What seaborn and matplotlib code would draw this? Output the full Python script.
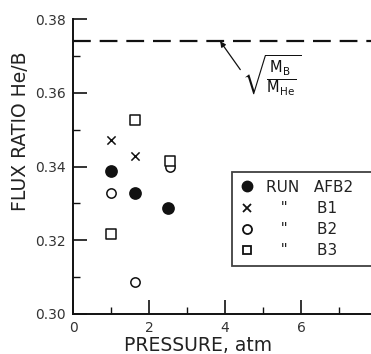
import matplotlib
matplotlib.use("Agg")
import matplotlib.pyplot as plt
import seaborn as sns
import pandas as pd
from matplotlib.ticker import MultipleLocator
from matplotlib.lines import Line2D

sns.set_theme(style="ticks")
plt.rcParams['font.family'] = ['DejaVu Sans']
plt.rcParams['mathtext.fontset'] = 'dejavusans'

# data
pressure = [1.0, 1.63, 2.55]
afb2 = [0.3388, 0.3327, 0.3287]
b1 = [0.3472, 0.3428, 0.3401]
b2 = [0.3327, 0.3087, 0.3398]
b3 = [0.3217, 0.3526, 0.3415]
pressure_afb2 = [1.0, 1.63, 2.50]
sqrt_ratio = 0.374

series_names = ["RUN   AFB2", "   \"      B1", "   \"      B2", "   \"      B3"]

fig = plt.figure(figsize=(3.71, 3.54), dpi=100)
ax = fig.add_axes([0.197, 0.113, 0.803, 0.833])

ink = "#111111"
kw = dict(ax=ax, legend=False, linewidth=1.1, zorder=3)
sns.scatterplot(x=pressure_afb2, y=afb2, marker="o", s=65, color=ink, edgecolor=ink, **kw)
sns.scatterplot(x=pressure, y=b1, marker="x", s=35, color=ink, **kw)
sns.scatterplot(x=pressure, y=b2, marker="o", s=45, facecolor="white", edgecolor=ink, **kw)
sns.scatterplot(x=pressure, y=b3, marker="s", s=42, facecolor="white", edgecolor=ink, **kw)

ax.axhline(sqrt_ratio, color=ink, lw=1.6, dashes=(8, 4))

ax.set_xlim(0, 7.84)
ax.set_ylim(0.30, 0.38)
ax.xaxis.set_major_locator(MultipleLocator(2))
ax.xaxis.set_minor_locator(MultipleLocator(1))
ax.yaxis.set_major_locator(MultipleLocator(0.02))
ax.yaxis.set_minor_locator(MultipleLocator(0.01))
ax.tick_params(which="major", direction="in", length=10, width=1.2, color=ink,
               labelsize=10, labelcolor="#333333", pad=5)
ax.tick_params(which="minor", direction="in", length=5, width=1.0, color=ink)
ax.yaxis.set_major_formatter(matplotlib.ticker.FormatStrFormatter("%.2f"))
ax.xaxis.set_major_formatter(matplotlib.ticker.FormatStrFormatter("%d"))
for s in ["top", "right"]:
    ax.spines[s].set_visible(False)
for s in ["left", "bottom"]:
    ax.spines[s].set_color(ink)
    ax.spines[s].set_linewidth(1.4)

ax.set_xlabel("PRESSURE, atm", fontsize=13.5, color="#222222", labelpad=1)
ax.set_ylabel("FLUX RATIO He/B", fontsize=13.5, color="#222222", labelpad=4)
ax.xaxis.label.set_x(0.42)
ax.yaxis.label.set_y(0.62)

ax.annotate("", xy=(3.87, sqrt_ratio), xytext=(4.4, 0.3663),
            arrowprops=dict(arrowstyle="-|>", color=ink, lw=0.9, shrinkA=0, shrinkB=0,
                            mutation_scale=8))
ax.text(4.45, 0.3648, r"$\sqrt{\frac{\mathrm{M_B}}{\mathrm{M_{He}}}}$", fontsize=15,
        color=ink, ha="left", va="center")

handles = [
    Line2D([], [], marker="o", ls="", color=ink, markersize=7.5),
    Line2D([], [], marker="x", ls="", color=ink, markersize=5.5, markeredgewidth=1.3),
    Line2D([], [], marker="o", ls="", markerfacecolor="white", markeredgecolor=ink, markersize=6.5, markeredgewidth=1.3),
    Line2D([], [], marker="s", ls="", markerfacecolor="white", markeredgecolor=ink, markersize=6, markeredgewidth=1.3),
]
leg = ax.legend(handles, series_names, loc="upper left", bbox_to_anchor=(0.534, 0.0, 0.6, 0.481),
                mode="expand", frameon=True, fancybox=False, edgecolor=ink, fontsize=11,
                handlelength=1.0, handletextpad=0.7, labelspacing=0.4, borderpad=0.5,
                borderaxespad=0)
leg.get_frame().set_linewidth(1.3)
for t in leg.get_texts():
    t.set_color("#222222")

fig.savefig("out.png", dpi=100, facecolor="white")
